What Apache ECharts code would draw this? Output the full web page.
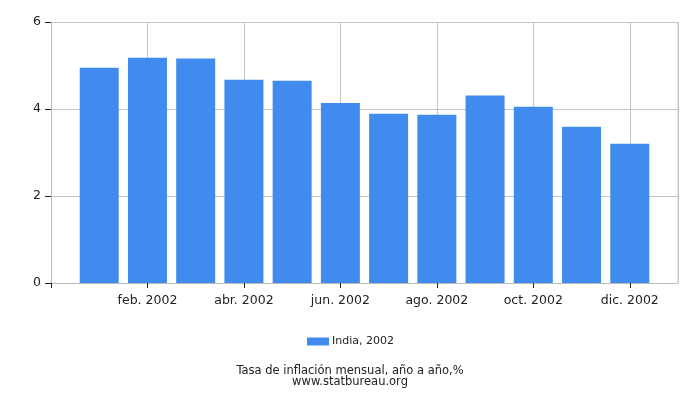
<!DOCTYPE html>
<html>
<head>
<meta charset="utf-8">
<style>
  html, body { margin: 0; padding: 0; background: #fff; }
  #chart { width: 700px; height: 400px; }
</style>
<script src="https://cdn.jsdelivr.net/npm/echarts@6/dist/echarts.min.js"></script>
</head>
<body>
<div id="chart"></div>
<script>
// months on the axis; slot 0 and 13 are the empty edges of the axis
const months = ['ene. 2002', 'feb. 2002', 'mar. 2002', 'abr. 2002', 'may. 2002', 'jun. 2002',
    'jul. 2002', 'ago. 2002', 'sep. 2002', 'oct. 2002', 'nov. 2002', 'dic. 2002'];
const inflation = [4.95, 5.18, 5.16, 4.67, 4.65, 4.14, 3.89, 3.87, 4.31, 4.05, 3.59, 3.20];
const seriesName = 'India, 2002';
const title = 'Tasa de inflación mensual, año a año,%';
const source = 'www.statbureau.org';

const font = 'DejaVu Sans';
const chart = echarts.init(document.getElementById('chart'), null, { renderer: 'canvas' });

chart.setOption({
    animation: false,
    backgroundColor: '#fff',
    textStyle: { fontFamily: font },
    grid: { left: 51, right: 22, top: 22, bottom: 117, containLabel: false },
    legend: {
        data: [seriesName],
        top: 331,
        left: 302,
        itemWidth: 22,
        itemHeight: 8,
        icon: 'rect',
        textStyle: { color: '#222', fontSize: 11, fontFamily: font, padding: [0, 0, 0, -2] },
    },
    title: {
        text: title,
        subtext: source,
        left: 'center',
        top: 360,
        itemGap: 0,
        textStyle: { color: '#222', fontSize: 11.5, fontWeight: 'normal', fontFamily: font, lineHeight: 12 },
        subtextStyle: { color: '#222', fontSize: 11.5, fontFamily: font, lineHeight: 10 },
    },
    xAxis: {
        type: 'value',
        min: 0,
        max: 13,
        interval: 2,
        axisLine: { show: true, lineStyle: { color: '#bbb' } },
        axisTick: { show: true, length: 5, lineStyle: { color: '#222' } },
        axisLabel: {
            color: '#222',
            fontSize: 12.5,
            margin: 11,
            showMaxLabel: false,
            formatter: (v) => months[v - 1] || '',
        },
        splitLine: { show: true, lineStyle: { color: '#c4c4c4' } },
    },
    yAxis: {
        type: 'value',
        min: 0,
        max: 6,
        interval: 2,
        axisLine: { show: true, lineStyle: { color: '#bbb' } },
        axisTick: { show: true, length: 6, lineStyle: { color: '#222' } },
        axisLabel: { color: '#222', fontSize: 12.5, margin: 10 },
        splitLine: { show: true, lineStyle: { color: '#c4c4c4' } },
    },
    series: [
        {
            name: seriesName,
            type: 'bar',
            barWidth: 39,
            itemStyle: { color: '#418bee' },
            data: inflation.map((v, i) => [i + 1, v]),
        },
        {
            // right border of the plot
            type: 'line',
            silent: true,
            symbol: 'none',
            lineStyle: { color: '#c4c4c4', width: 1 },
            data: [[13, 0], [13, 6]],
            legendHoverLink: false,
        },
    ],
});
</script>
</body>
</html>
